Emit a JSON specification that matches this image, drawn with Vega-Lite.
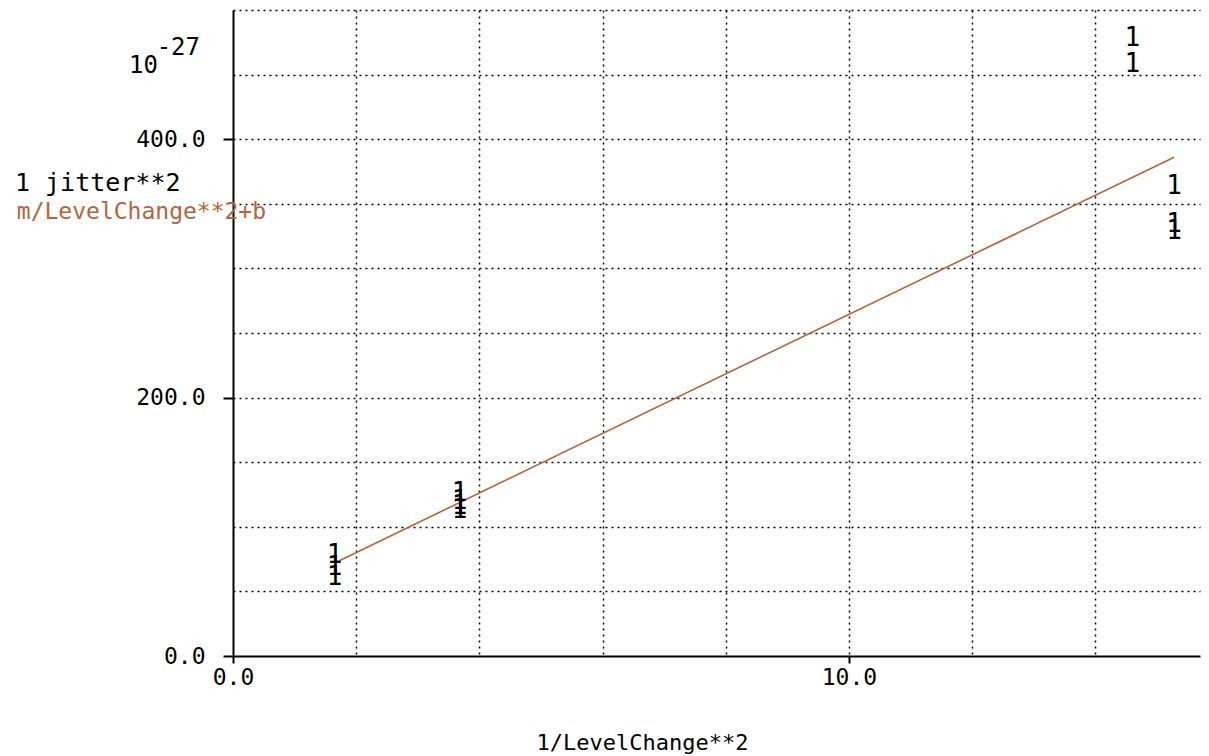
{
  "$schema": "https://vega.github.io/schema/vega-lite/v6.json",
  "width": 967,
  "height": 646,
  "autosize": {"type": "none"},
  "padding": {"left": 233, "top": 10, "right": 9, "bottom": 100},
  "background": "white",
  "config": {
    "view": {"stroke": null},
    "font": "DejaVu Sans Mono",
    "axis": {
      "labelFont": "DejaVu Sans Mono",
      "labelFontSize": 23,
      "labelColor": "black",
      "titleFont": "DejaVu Sans Mono",
      "titleFontSize": 22,
      "titleFontWeight": "normal",
      "titleColor": "black",
      "domainColor": "black",
      "domainWidth": 2,
      "tickColor": "black",
      "tickWidth": 2,
      "gridColor": "black",
      "gridDash": [2, 4],
      "gridWidth": 1.5,
      "gridOpacity": 1
    }
  },
  "datasets": {
    "points": [
      {"x": 1.65, "y": 78},
      {"x": 1.65, "y": 69},
      {"x": 1.65, "y": 61},
      {"x": 3.68, "y": 126},
      {"x": 3.68, "y": 120},
      {"x": 3.68, "y": 116},
      {"x": 3.68, "y": 113},
      {"x": 14.6, "y": 478},
      {"x": 14.6, "y": 458},
      {"x": 15.28, "y": 364},
      {"x": 15.28, "y": 334},
      {"x": 15.28, "y": 329}
    ],
    "fit": [
      {"x": 1.65, "y": 72},
      {"x": 15.28, "y": 386}
    ]
  },
  "layer": [
    {
      "data": {"name": "fit"},
      "mark": {"type": "line", "color": "#b4643c", "strokeWidth": 1.6},
      "encoding": {
        "x": {
          "field": "x",
          "type": "quantitative",
          "scale": {"domain": [0, 15.7], "nice": false, "zero": false},
          "axis": {
            "values": [0, 2, 4, 6, 8, 10, 12, 14],
            "labelExpr": "datum.value % 10 === 0 ? format(datum.value, '.1f') : ''",
            "tickOpacity": {"condition": {"test": "datum.value % 10 === 0", "value": 1}, "value": 0},
            "gridOpacity": {"condition": {"test": "datum.value === 0", "value": 0}, "value": 1},
            "tickSize": 7,
            "labelPadding": 3,
            "labelFlush": false,
            "labelOverlap": false,
            "title": "1/LevelChange**2",
            "titleAnchor": "start",
            "titleX": 303,
            "titleY": 76,
            "titleBaseline": "top"
          }
        },
        "y": {
          "field": "y",
          "type": "quantitative",
          "scale": {"domain": [0, 500], "nice": false, "zero": false},
          "axis": {
            "values": [0, 50, 100, 150, 200, 250, 300, 350, 400, 450, 500],
            "labelExpr": "datum.value % 200 === 0 ? format(datum.value, '.1f') : ''",
            "tickOpacity": {"condition": {"test": "datum.value % 200 === 0", "value": 1}, "value": 0},
            "gridOpacity": {"condition": {"test": "datum.value === 0", "value": 0}, "value": 1},
            "tickSize": 10,
            "labelPadding": 18,
            "labelFlush": false,
            "labelOverlap": false,
            "title": null
          }
        }
      }
    },
    {
      "data": {"name": "points"},
      "mark": {"type": "text", "text": "1", "font": "DejaVu Sans Mono", "fontSize": 26, "color": "black", "baseline": "middle", "align": "center"},
      "encoding": {
        "x": {"field": "x", "type": "quantitative"},
        "y": {"field": "y", "type": "quantitative"}
      }
    },
    {
      "data": {"values": [{"label": "1 jitter**2"}]},
      "mark": {"type": "text", "font": "DejaVu Sans Mono", "fontSize": 25, "color": "black", "align": "left", "baseline": "middle"},
      "encoding": {
        "text": {"field": "label"},
        "x": {"datum": -3.54, "type": "quantitative"},
        "y": {"datum": 366, "type": "quantitative"}
      }
    },
    {
      "data": {"values": [{"label": "m/LevelChange**2+b"}]},
      "mark": {"type": "text", "font": "DejaVu Sans Mono", "fontSize": 23, "color": "#b4643c", "align": "left", "baseline": "middle"},
      "encoding": {
        "text": {"field": "label"},
        "x": {"datum": -3.51, "type": "quantitative"},
        "y": {"datum": 344, "type": "quantitative"}
      }
    },
    {
      "data": {"values": [{"label": "10"}]},
      "mark": {"type": "text", "font": "DejaVu Sans Mono", "fontSize": 24, "color": "black", "align": "right", "baseline": "alphabetic"},
      "encoding": {
        "text": {"field": "label"},
        "x": {"datum": -1.22, "type": "quantitative"},
        "y": {"datum": 451, "type": "quantitative"}
      }
    },
    {
      "data": {"values": [{"label": "-27"}]},
      "mark": {"type": "text", "font": "DejaVu Sans Mono", "fontSize": 24, "color": "black", "align": "left", "baseline": "alphabetic"},
      "encoding": {
        "text": {"field": "label"},
        "x": {"datum": -1.24, "type": "quantitative"},
        "y": {"datum": 465, "type": "quantitative"}
      }
    }
  ]
}
